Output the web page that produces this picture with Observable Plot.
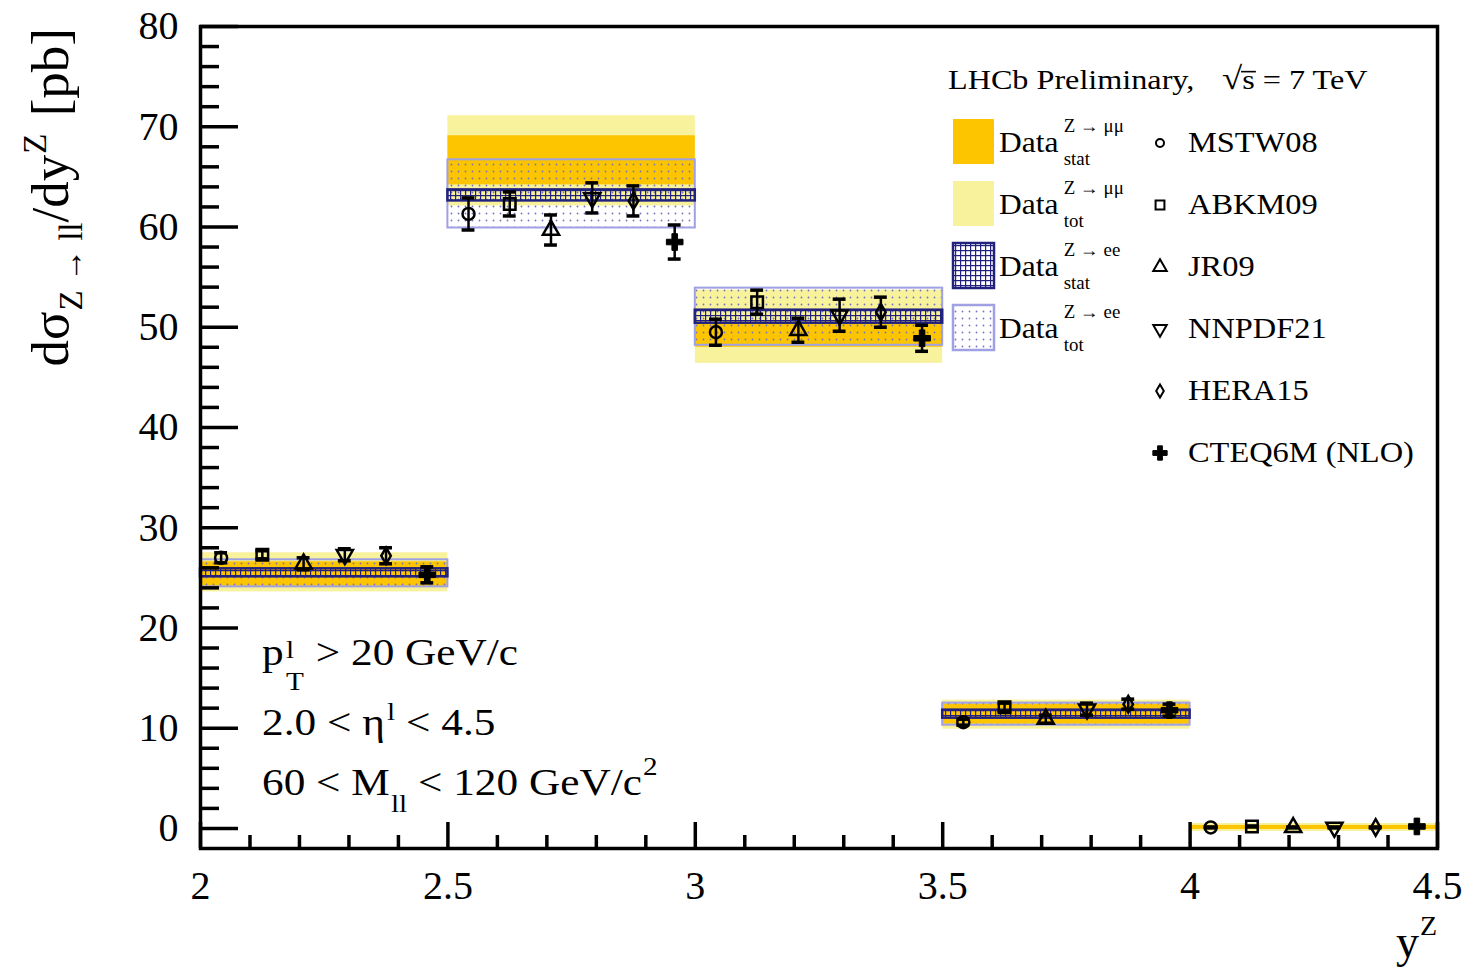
<!DOCTYPE html>
<html><head><meta charset="utf-8">
<script src="https://cdn.jsdelivr.net/npm/d3@7"></script>
<script src="https://cdn.jsdelivr.net/npm/@observablehq/plot@0.6"></script>
<style>body{margin:0;background:#fff;} svg{display:block}</style>
</head><body>
<script>
// ---------- data ----------
const binLo = [2.0, 2.5, 3.0, 3.5, 4.0];
const binHi = [2.5, 3.0, 3.5, 4.0, 4.5];
// Z -> mu mu : stat and total error bands
const mumuStatLo = [24.1, 64.2, 48.0, 10.4, -0.1];
const mumuStatHi = [26.6, 69.1, 50.5, 12.4, 0.3];
const mumuTotLo  = [23.6, 62.1, 46.4, 9.9, -0.3];
const mumuTotHi  = [27.5, 71.1, 53.7, 12.8, 0.5];
// Z -> ee : stat and total error bands
const eeStatLo = [25.1, 62.6, 50.4, 11.0, null];
const eeStatHi = [25.9, 63.7, 51.7, 11.8, null];
const eeTotLo  = [24.1, 59.9, 48.2, 10.3, null];
const eeTotHi  = [26.8, 66.7, 53.9, 12.5, null];
// theory predictions (value, error) per bin
const pdfNames = ["MSTW08", "ABKM09", "JR09", "NNPDF21", "HERA15", "CTEQ6M (NLO)"];
const mstw08  = [27.0, 61.3, 49.5, 10.6, 0.1];
const mstw08Err = [0.5, 1.6, 1.3, 0.3, 0.05];
const abkm09  = [27.3, 62.3, 52.5, 12.1, 0.2];
const abkm09Err = [0.4, 1.2, 1.2, 0.4, 0.05];
const jr09    = [26.4, 59.7, 49.7, 10.9, 0.1];
const jr09Err = [0.6, 1.5, 1.2, 0.4, 0.05];
const nnpdf21 = [27.3, 62.9, 51.2, 11.9, 0.1];
const nnpdf21Err = [0.6, 1.5, 1.6, 0.6, 0.05];
const hera15  = [27.2, 62.6, 51.5, 12.4, 0.1];
const hera15Err = [0.8, 1.5, 1.5, 0.5, 0.05];
const cteq6m  = [25.3, 58.5, 48.9, 11.8, 0.2];
const cteq6mErr = [0.8, 1.7, 1.3, 0.6, 0.05];
const pdfValues = [mstw08, abkm09, jr09, nnpdf21, hera15, cteq6m];
const pdfErrors = [mstw08Err, abkm09Err, jr09Err, nnpdf21Err, hera15Err, cteq6mErr];
// axis ticks
const xMajor = [2, 2.5, 3, 3.5, 4, 4.5];
const xMinor = d3.range(20, 46).map(d => d / 10).filter(d => !xMajor.includes(d));
const yMajor = [0, 10, 20, 30, 40, 50, 60, 70, 80];
const yMinor = d3.range(0, 81, 2).filter(d => d % 10 !== 0);

// ---------- tables ----------
const bins = binLo.map((lo, i) => ({
  lo, hi: binHi[i],
  mSL: mumuStatLo[i], mSH: mumuStatHi[i], mTL: mumuTotLo[i], mTH: mumuTotHi[i],
  eSL: eeStatLo[i], eSH: eeStatHi[i], eTL: eeTotLo[i], eTH: eeTotHi[i]
}));
const eeBins = bins.filter(d => d.eSL != null);
const theory = [];
pdfNames.forEach((name, k) => {
  pdfValues[k].forEach((v, i) => {
    const x = binLo[i] + (k + 0.5) * (binHi[i] - binLo[i]) / pdfNames.length;
    theory.push({name, k, x, v, lo: v - pdfErrors[k][i], hi: v + pdfErrors[k][i]});
  });
});

// ---------- style ----------
const W = 1469, H = 975;
const mL = 200, mR = 32, mT = 26, mB = 127;
const fw = W - mL - mR, fh = H - mT - mB;
const YELLOW = "#f8f29c", ORANGE = "#fcc500", NAVY = "#22227e", LAV = "#a0a0e4";
const symbols = ["circle", "square", "triangle", "triangle", "diamond", "cross"];
const rotates = [0, 0, 0, 180, 0, 0];
const radii = [6, 6.5, 6, 6, 5, 7];
const cap = 0.013;

const dotMarks = pdfNames.map((name, k) => Plot.dot(theory.filter(d => d.k === k), {
  x: "x", y: "v", symbol: symbols[k], r: radii[k], rotate: rotates[k],
  fill: k === 5 ? "black" : "none", stroke: "black", strokeWidth: k === 5 ? 1 : 2.5
}));

const svg = Plot.plot({
  width: W, height: H,
  marginLeft: mL, marginRight: mR, marginTop: mT, marginBottom: mB,
  style: {fontFamily: "Liberation Serif", color: "black", background: "white"},
  x: {domain: [2, 4.5], label: null},
  y: {domain: [-2, 80], label: null},
  marks: [
    Plot.rect(bins, {x1: "lo", x2: "hi", y1: "mTL", y2: "mTH", fill: YELLOW}),
    Plot.rect(bins, {x1: "lo", x2: "hi", y1: "mSL", y2: "mSH", fill: ORANGE}),
    Plot.rect(eeBins, {x1: "lo", x2: "hi", y1: "eTL", y2: "eTH", fill: "url(#eeTot)", stroke: LAV, strokeWidth: 2}),
    Plot.rect(eeBins, {x1: "lo", x2: "hi", y1: "eSL", y2: "eSH", fill: "url(#eeStat)", stroke: NAVY, strokeWidth: 2.5}),
    Plot.ruleX(theory, {x: "x", y1: "lo", y2: "hi", stroke: "black", strokeWidth: 2.5}),
    Plot.ruleY(theory, {y: "lo", x1: d => d.x - cap, x2: d => d.x + cap, stroke: "black", strokeWidth: 3.5}),
    Plot.ruleY(theory, {y: "hi", x1: d => d.x - cap, x2: d => d.x + cap, stroke: "black", strokeWidth: 3.5}),
    ...dotMarks,
    Plot.tickY(yMajor, {y: d => d, insetRight: fw - 38, stroke: "black", strokeWidth: 3.5}),
    Plot.tickY(yMinor, {y: d => d, insetRight: fw - 19, stroke: "black", strokeWidth: 3.5}),
    Plot.tickX(xMajor, {x: d => d, insetTop: fh - 26, stroke: "black", strokeWidth: 3.5}),
    Plot.tickX(xMinor, {x: d => d, insetTop: fh - 13, stroke: "black", strokeWidth: 3.5}),
    Plot.frame({stroke: "black", strokeWidth: 3.5}),
    Plot.axisY({ticks: yMajor, tickSize: 0, tickPadding: 22, fontSize: 40, tickFormat: d => String(d), label: null}),
    Plot.axisX({ticks: xMajor, tickSize: 0, tickPadding: 22, fontSize: 40, tickFormat: d => String(d), label: null})
  ]
});
document.body.appendChild(svg);

// ---------- patterns ----------
const S = d3.select(svg);
const defs = S.insert("defs", ":first-child");
const p1 = defs.append("pattern").attr("id", "eeStat").attr("patternUnits", "userSpaceOnUse").attr("width", 5).attr("height", 5);
p1.append("rect").attr("x", 0).attr("y", 0).attr("width", 5).attr("height", 1.2).attr("fill", NAVY);
p1.append("rect").attr("x", 0).attr("y", 0).attr("width", 1.2).attr("height", 5).attr("fill", NAVY);
const p2 = defs.append("pattern").attr("id", "eeTot").attr("patternUnits", "userSpaceOnUse").attr("width", 7).attr("height", 7);
p2.append("circle").attr("cx", 3.5).attr("cy", 3.5).attr("r", 0.9).attr("fill", "#7373bf");

// ---------- rich text helper ----------
const layer = S.append("g").attr("fill", "black").attr("font-family", "Liberation Serif")
  .attr("text-anchor", "start").style("text-anchor", "start");
function rich(x, y, pieces, opt = {}) {
  const {sx = 1, anchorEnd = false, rotate = 0} = opt;
  const outer = layer.append("g").attr("transform", `translate(${x},${y}) rotate(${rotate}) scale(${sx},1)`);
  const g = outer.append("g");
  let cx = 0, px = 0;
  for (const p of pieces) {
    const x0 = p.stack ? px : cx + (p.dx || 0);
    const t = g.append("text").attr("x", x0).attr("y", p.dy || 0).attr("font-size", p.size)
      .attr("text-anchor", "start").text(p.t);
    const w = t.node().getComputedTextLength();
    if (p.over) {
      const yy = (p.dy || 0) - p.size * 0.62;
      g.append("line").attr("x1", x0 - 1).attr("x2", x0 + w + 1).attr("y1", yy).attr("y2", yy)
        .attr("stroke", "black").attr("stroke-width", 1.6);
    }
    if (!p.stack) px = x0;
    cx = Math.max(cx, x0 + w);
  }
  if (anchorEnd) g.attr("transform", `translate(${-cx},0)`);
  return cx;
}

// axis titles
rich(68, 28, [
  {t: "dσ", size: 53},
  {t: "Z → ll", size: 33, dy: 14, dx: 1},
  {t: "/dy", size: 53},
  {t: "Z", size: 33, dy: -22, dx: 1},
  {t: " [pb]", size: 53, dx: 4}
], {rotate: -90, anchorEnd: true});
rich(1437, 957, [
  {t: "y", size: 46},
  {t: "Z", size: 28, dy: -22, dx: 1}
], {anchorEnd: true});

// selection text block
const TS = 37, ts = 25, tsx = 1.17;
rich(262, 665, [
  {t: "p", size: TS},
  {t: "l", size: ts, dy: -7, dx: 2},
  {t: "T", size: ts, dy: 25, stack: true},
  {t: " > 20 GeV/c", size: TS, dx: 1}
], {sx: tsx});
rich(262, 735, [
  {t: "2.0 < η", size: TS},
  {t: "l", size: ts, dy: -15, dx: 2},
  {t: " < 4.5", size: TS}
], {sx: tsx});
rich(262, 795, [
  {t: "60 < M", size: TS},
  {t: "ll", size: ts, dy: 17, dx: 1},
  {t: " < 120 GeV/c", size: TS},
  {t: "2", size: ts, dy: -20, dx: 1}
], {sx: tsx});

// legend
rich(948, 89, [
  {t: "LHCb Preliminary,", size: 28},
  {t: "√", size: 32, dx: 24},
  {t: "s", size: 28, over: true},
  {t: " = 7 TeV", size: 28}
], {sx: 1.15});
const legData = [
  {fill: ORANGE, stroke: "none", sup: "Z → μμ", sub: "stat"},
  {fill: YELLOW, stroke: "none", sup: "Z → μμ", sub: "tot"},
  {fill: "url(#eeStat)", stroke: NAVY, sup: "Z → ee", sub: "stat"},
  {fill: "url(#eeTot)", stroke: LAV, sup: "Z → ee", sub: "tot"}
];
legData.forEach((d, i) => {
  const by = 152 + 62 * i;
  layer.append("rect").attr("x", 953).attr("y", by - 33).attr("width", 41).attr("height", 45)
    .attr("fill", "white");
  layer.append("rect").attr("x", 953).attr("y", by - 33).attr("width", 41).attr("height", 45)
    .attr("fill", d.fill).attr("stroke", d.stroke).attr("stroke-width", 2.5);
  rich(999, by, [
    {t: "Data", size: 30},
    {t: d.sup, size: 18, dy: -20, dx: 5},
    {t: d.sub, size: 18, dy: 13, stack: true}
  ], {sx: 1.05});
});
const d3Sym = {circle: d3.symbolCircle, square: d3.symbolSquare, triangle: d3.symbolTriangle, diamond: d3.symbolDiamond, cross: d3.symbolCross};
const legR = [4, 5, 5, 5, 4, 6];
pdfNames.forEach((name, k) => {
  const cy = 143 + 62 * k;
  layer.append("path")
    .attr("d", d3.symbol(d3Sym[symbols[k]], Math.PI * legR[k] * legR[k])())
    .attr("transform", `translate(1160,${cy}) rotate(${rotates[k]})`)
    .attr("fill", k === 5 ? "black" : "none").attr("stroke", "black").attr("stroke-width", k === 5 ? 1 : 2);
  rich(1188, 152 + 62 * k, [{t: name, size: 30}], {sx: 1.08});
});
</script></body></html>
